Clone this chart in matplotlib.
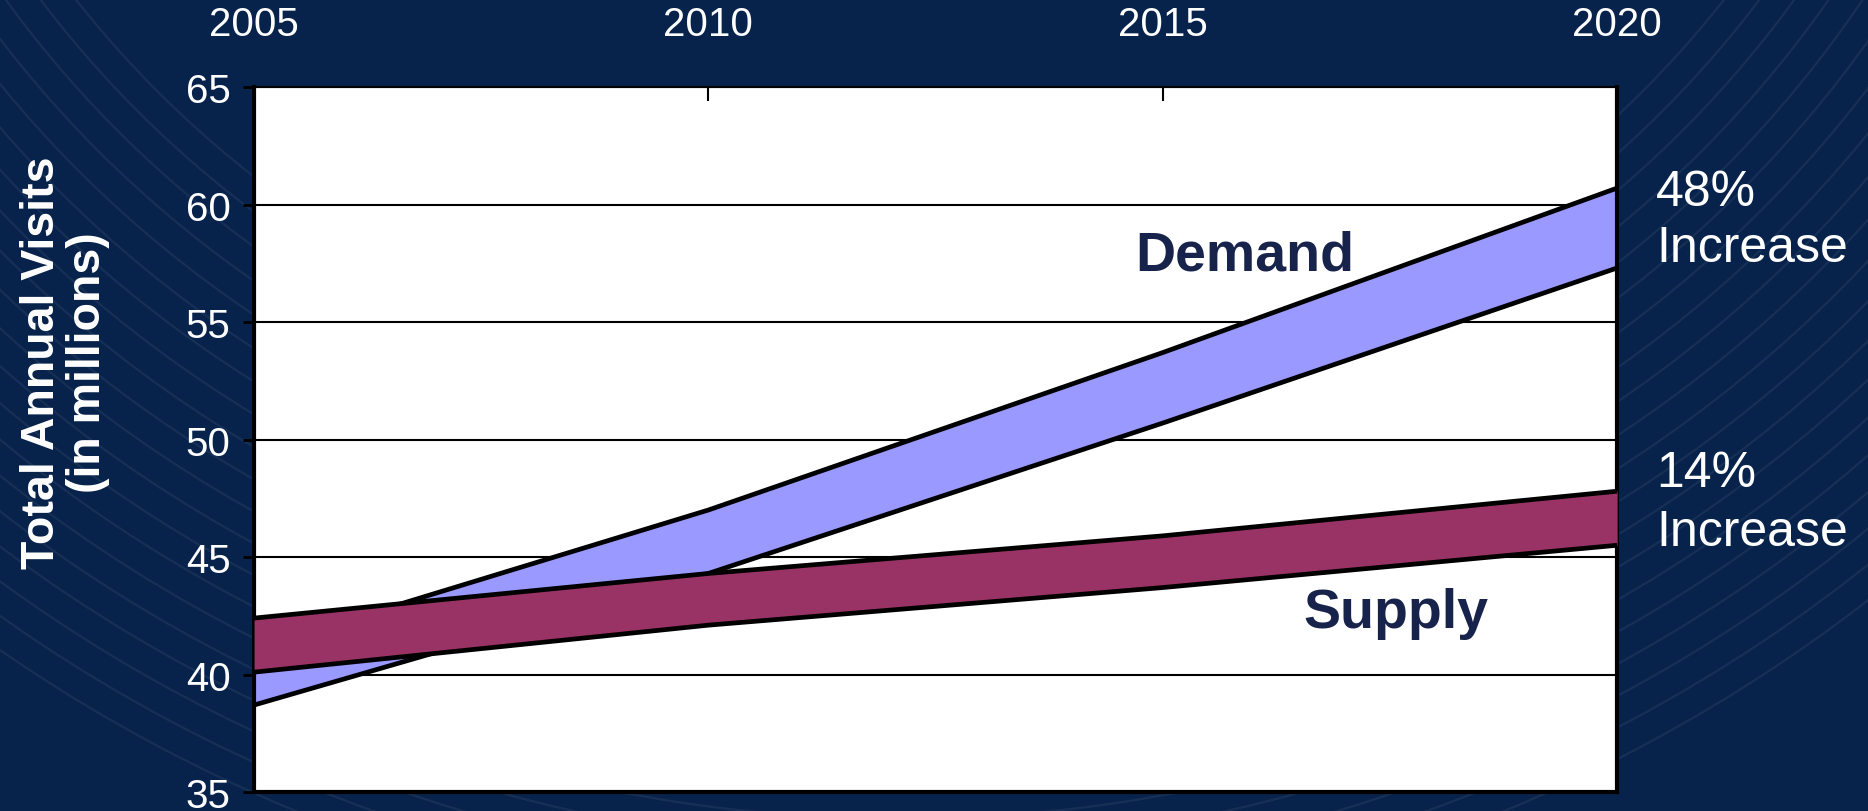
import numpy as np
import matplotlib.pyplot as plt
from matplotlib.patches import Circle

# datos
anios = [2005, 2010, 2015, 2020]
demanda_baja = [38.7, 44.3, 50.7, 57.3]
demanda_alta = [41.1, 47.0, 53.7, 60.7]
oferta_baja = [40.1, 42.1, 43.7, 45.5]
oferta_alta = [42.4, 44.3, 45.9, 47.8]
ticks_y = [35, 40, 45, 50, 55, 60, 65]
etiquetas_pct = ['48%', '14%']

fondo = '#08234b'
fuente = ['Liberation Sans', 'DejaVu Sans']

fig = plt.figure(figsize=(18.68, 8.12), dpi=100, facecolor=fondo)

# fondo con arcos suaves
bg = fig.add_axes([0, 0, 1, 1], zorder=0)
bg.set_xlim(0, 1868)
bg.set_ylim(812, 0)
bg.axis('off')
for r in np.arange(1050, 1600, 28):
    bg.add_patch(Circle((900, -650), r, fill=False, ec='white', lw=1.6, alpha=0.06))

# --- grafico principal ---
ax = fig.add_axes([0.136, 0.0234, 0.7297, 0.8682], zorder=1)
ax.set_facecolor('white')

ax.fill_between(anios, demanda_baja, demanda_alta, color='#9999ff', zorder=2, lw=0)
ax.plot(anios, demanda_alta, color='black', lw=3.4, zorder=3)
ax.plot(anios, demanda_baja, color='black', lw=3.4, zorder=3)

ax.fill_between(anios, oferta_baja, oferta_alta, color='#993366', zorder=4, lw=0)
ax.plot(anios, oferta_alta, color='black', lw=3.4, zorder=5)
ax.plot(anios, oferta_baja, color='black', lw=3.4, zorder=5)

ax.set_xlim(2005, 2020)
ax.set_ylim(35, 65)
ax.set_yticks(ticks_y)
ax.set_xticks(anios)
ax.yaxis.grid(True, color='black', lw=1.5)
ax.set_axisbelow(True)

ax.xaxis.tick_top()
ax.tick_params(axis='x', direction='in', length=10, width=1.5, pad=32,
               labelcolor='white', labelsize=29)
ax.tick_params(axis='y', direction='out', length=8, width=2, pad=9,
               labelcolor='white', labelsize=29)
for lab in ax.get_xticklabels() + ax.get_yticklabels():
    lab.set_family(fuente)

for lado in ['left', 'bottom', 'right']:
    ax.spines[lado].set_linewidth(3)
ax.spines['top'].set_linewidth(1.5)

# textos
ax.text(2015.9, 57.85, 'Demand', fontsize=40, fontweight='bold', color='#17234a',
        family=fuente, ha='center', va='center', zorder=6)
ax.text(2017.57, 42.6, 'Supply', fontsize=40, fontweight='bold', color='#17234a',
        family=fuente, ha='center', va='center', zorder=6)

ax.text(2020.43, 60.53, etiquetas_pct[0], fontsize=36, color='white', family=fuente,
        ha='left', va='center', clip_on=False)
ax.text(2020.43, 58.15, 'Increase', fontsize=36, color='white', family=fuente,
        ha='left', va='center', clip_on=False)
ax.text(2020.43, 48.57, etiquetas_pct[1], fontsize=36, color='white', family=fuente,
        ha='left', va='center', clip_on=False)
ax.text(2020.43, 46.06, 'Increase', fontsize=36, color='white', family=fuente,
        ha='left', va='center', clip_on=False)

fig.text(65 / 1868, 0.553, 'Total Annual Visits\n(in millions)', rotation=90,
         fontsize=33.5, fontweight='bold', color='white', family=fuente,
         ha='center', va='center', multialignment='center', linespacing=1.05)

plt.savefig('out.png', dpi=100, facecolor=fondo)
